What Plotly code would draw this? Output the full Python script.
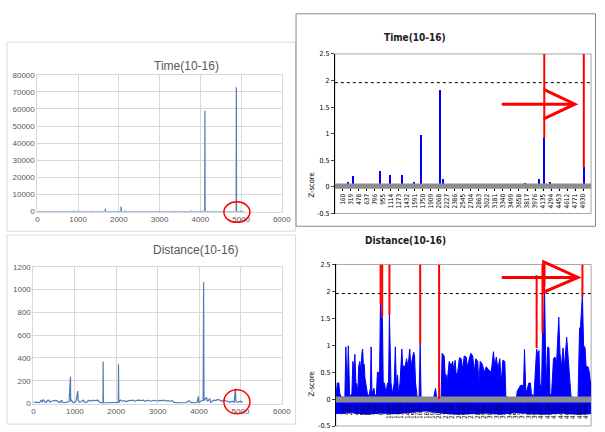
import plotly.graph_objects as go

W, H = 605, 432


def px(x):
    return x / W


def py(y):
    return 1 - y / H


# ---------------- data ----------------
# Time(10-16), raw values per record index
time_idx = [0, 195, 200, 205, 295, 300, 305, 380, 385, 390,
            600, 605, 610, 720, 725, 730, 895, 900, 905, 1050,
            1055, 1060, 1200, 1205, 1210, 1350, 1355, 1360, 1550, 1555,
            1560, 1665, 1670, 1675, 2051, 2056, 2061, 2150, 2155, 2160,
            3350, 3355, 3360, 3770, 3775, 3780, 4040, 4045, 4050, 4108,
            4113, 4118, 4260, 4265, 4270, 4879, 4884, 4889, 4990, 4995,
            5000, 5077]
time_val = [0, 0, 300, 0, 0, 300, 0, 0, 250, 0,
            0, 200, 0, 0, 250, 0, 0, 600, 0, 0,
            300, 0, 0, 250, 0, 0, 300, 0, 0, 350,
            0, 0, 1800, 0, 0, 2900, 0, 0, 500, 0,
            0, 150, 0, 0, 200, 0, 0, 400, 0, 0,
            59000, 0, 0, 400, 0, 0, 72700, 0, 0, 200,
            0, 0]

# Distance(10-16), raw values per record index
dist_idx = [0, 50, 100, 150, 190, 210, 240, 270, 310, 340,
            370, 400, 430, 470, 500, 530, 560, 600, 640, 680,
            700, 740, 780, 820, 860, 895, 900, 905, 915, 950,
            990, 1030, 1070, 1080, 1110, 1150, 1200, 1240, 1280, 1320,
            1360, 1400, 1440, 1480, 1520, 1560, 1600, 1640, 1680, 1684,
            1690, 1750, 1850, 1950, 2000, 2050, 2055, 2062, 2100, 2150,
            2200, 2250, 2300, 2350, 2400, 2450, 2500, 2550, 2600, 2650,
            2700, 2750, 2800, 2850, 2900, 2950, 3000, 3050, 3100, 3150,
            3200, 3250, 3300, 3350, 3400, 3500, 3600, 3700, 3760, 3800,
            3850, 3900, 3950, 3984, 3995, 4050, 4100, 4111, 4120, 4180,
            4200, 4260, 4280, 4320, 4360, 4400, 4450, 4500, 4550, 4600,
            4650, 4700, 4750, 4800, 4850, 4878, 4890, 4920, 4960, 5000,
            5051]
dist_val = [12, 10, 14, 8, 30, 12, 35, 15, 8, 28,
            30, 12, 20, 25, 30, 28, 25, 15, 8, 30,
            10, 8, 12, 10, 15, 235, 20, 150, 30, 10,
            8, 20, 109, 30, 10, 15, 30, 10, 8, 25,
            28, 20, 30, 25, 28, 30, 10, 5, 5, 369,
            5, 5, 8, 6, 8, 10, 344, 10, 30, 20,
            25, 15, 28, 25, 30, 20, 28, 30, 25, 30,
            20, 28, 25, 20, 28, 25, 22, 28, 25, 30,
            22, 25, 20, 25, 10, 5, 5, 8, 25, 8,
            10, 5, 8, 63, 10, 20, 30, 1063, 25, 55,
            20, 40, 10, 20, 30, 25, 35, 30, 20, 30,
            25, 15, 10, 20, 10, 132, 20, 10, 15, 20,
            10]

# Time(10-16), Z-score columns
tz_idx = [268, 352, 906, 1089, 1330, 1571, 1708, 2080, 2152, 3351,
          3770, 4049, 4160, 4277, 4955]
tz_val = [0.09, 0.2, 0.31, 0.22, 0.22, 0.09, 0.98, 1.82, 0.15, 0.02,
          0.07, 0.15, 0.92, 0.09, 0.37]
tz_flag_idx = [4160, 4945]
tz_flag_from = [0.92, 0.37]
tz_flag_to = [2.5, 2.5]
tz_labels = [160, 319, 478, 637, 796, 955, 1114, 1273, 1432, 1591,
             1750, 1909, 2068, 2227, 2386, 2545, 2704, 2863, 3022, 3181,
             3340, 3499, 3658, 3817, 3976, 4135, 4294, 4453, 4612, 4771,
             4930]

# Distance(10-16), Z-score columns (positive envelope)
dz_idx = [0, 30, 60, 80, 100, 180, 200, 225, 250, 275,
          320, 340, 360, 380, 400, 420, 440, 455, 480, 500,
          520, 535, 550, 565, 580, 600, 630, 660, 690, 704,
          720, 760, 780, 810, 830, 850, 870, 890, 910, 930,
          945, 970, 1000, 1030, 1050, 1069, 1085, 1100, 1130, 1165,
          1187, 1205, 1230, 1250, 1280, 1317, 1335, 1360, 1385, 1410,
          1440, 1474, 1495, 1520, 1552, 1570, 1590, 1620, 1660, 1682,
          1700, 1800, 1950, 1989, 2010, 2060, 2100, 2120, 2160, 2180,
          2200, 2220, 2260, 2300, 2330, 2350, 2380, 2400, 2430, 2465,
          2500, 2530, 2560, 2600, 2620, 2650, 2690, 2730, 2760, 2790,
          2830, 2850, 2880, 2920, 2960, 3000, 3040, 3100, 3143, 3170,
          3200, 3230, 3270, 3300, 3330, 3370, 3390, 3450, 3600, 3619,
          3680, 3720, 3740, 3762, 3790, 3850, 3880, 3900, 3950, 4004,
          4030, 4050, 4070, 4100, 4121, 4140, 4160, 4180, 4200, 4226,
          4250, 4270, 4300, 4340, 4370, 4400, 4446, 4470, 4500, 4530,
          4560, 4603, 4625, 4650, 4670, 4690, 4750, 4830, 4860, 4880,
          4917, 4940, 4970, 4990, 5030, 5050, 5080, 5090]
dz_val = [0, 0.3, 0.3, 0.1, 0.05, 0.02, 0.97, 0.1, 0.99, 0.05,
          0.1, 0.7, 0.5, 0.83, 0.3, 0.28, 0.1, 0.6, 0.7, 0.5,
          0.85, 0.93, 0.6, 0.65, 0.4, 0.3, 0.1, 0.05, 0.2, 0.97,
          0.1, 0.2, 0.05, 0.1, 0.5, 0.5, 0.3, 1.8, 1.55, 1.5,
          0.3, 0.3, 0.1, 0.3, 0.2, 1.56, 0.8, 0.3, 0.1, 0.3,
          0.97, 0.3, 0.45, 0.1, 0.3, 0.93, 0.6, 0.62, 0.6, 0.75,
          0.6, 0.93, 0.6, 0.7, 0.87, 0.8, 0.3, 0.05, 0.03, 1.02,
          0.03, 0.02, 0.02, 0.2, 0.02, 0.0, 0.05, 0.85, 0.8, 0.45,
          0.45, 0.3, 0.7, 0.62, 0.7, 0.55, 0.72, 0.45, 0.5, 0.77,
          0.75, 0.55, 0.8, 0.78, 0.6, 0.7, 0.85, 0.8, 0.5, 0.75,
          0.7, 0.3, 0.7, 0.65, 0.5, 0.6, 0.55, 0.5, 0.88, 0.6,
          0.78, 0.55, 0.75, 0.3, 0.72, 0.7, 0.05, 0.02, 0.02, 0.15,
          0.25, 0.26, 0.1, 0.92, 0.1, 0.3, 0.3, 0.1, 0.05, 0.93,
          0.8, 0.9, 0.3, 0.1, 1.22, 1.1, 2.1, 1.0, 0.3, 0.97,
          0.95, 0.1, 0.05, 0.75, 0.78, 0.65, 1.52, 0.85, 0.6, 0.95,
          0.6, 1.15, 0.8, 0.5, 0.3, 0.05, 0.02, 0.02, 1.3, 1.35,
          1.95, 1.0, 0.95, 0.6, 0.6, 0.52, 0.25, 0.2]
# negative side of the distance Z-score columns
dzn_idx = [0, 300, 600, 900, 1200, 1500, 1800, 2100, 2400, 2700,
           3000, 3300, 3600, 3900, 4200, 4500, 4800, 5090]
dzn_val = [-0.27, -0.25, -0.28, -0.26, -0.27, -0.25, -0.22, -0.26, -0.28, -0.27,
           -0.26, -0.28, -0.25, -0.27, -0.28, -0.26, -0.28, -0.27]
dz_flag_idx = [893, 925, 1069, 1682, 2060, 4004, 4121, 4160, 4917]
dz_flag_from = [1.78, 1.53, 1.56, 1.02, 0.0, 0.95, 1.22, 2.1, 1.9]
dz_flag_to = [2.5, 2.5, 2.5, 2.5, 2.5, 2.3, 2.5, 2.5, 2.5]
dz_labels = [160, 287, 414, 541, 668, 795, 922, 1049, 1176, 1303,
             1430, 1557, 1684, 1811, 1938, 2065, 2192, 2319, 2446, 2573,
             2700, 2827, 2954, 3081, 3208, 3335, 3462, 3589, 3716, 3843,
             3970, 4097, 4224, 4351, 4478, 4605, 4732, 4859, 4986]

Z_CRIT = 1.96

# ---------------- styling ----------------
LINE_BLUE = "#4f7bb8"
GRID = "#d9d9d9"
TXT = "#595959"
BLUE = "#0000ff"
RED = "#ff0000"
GRAY_BAND = "#8c8c8c"
NARROW = "Liberation Sans Narrow, DejaVu Sans Condensed, Liberation Sans"

fig = go.Figure()

fig.add_trace(go.Scatter(x=time_idx, y=time_val, mode="lines",
                         line=dict(color=LINE_BLUE, width=1.2),
                         xaxis="x", yaxis="y", showlegend=False))
fig.add_trace(go.Scatter(x=dist_idx, y=dist_val, mode="lines",
                         line=dict(color=LINE_BLUE, width=1.2),
                         xaxis="x2", yaxis="y2", showlegend=False))
fig.add_trace(go.Bar(x=tz_idx, y=tz_val, width=28,
                     marker=dict(color=BLUE, line=dict(width=0)),
                     xaxis="x3", yaxis="y3", showlegend=False))
fig.add_trace(go.Scatter(x=dz_idx, y=dz_val, mode="lines", fill="tozeroy",
                         line=dict(color=BLUE, width=1), fillcolor=BLUE,
                         xaxis="x4", yaxis="y4", showlegend=False))
fig.add_trace(go.Scatter(x=dzn_idx, y=dzn_val, mode="lines", fill="tozeroy",
                         line=dict(color=BLUE, width=1), fillcolor=BLUE,
                         xaxis="x4", yaxis="y4", showlegend=False))

left_tick = dict(size=8, color=TXT, family="Liberation Sans")
right_tick = dict(size=7, color="black", family=NARROW)

fig.update_layout(
    width=W, height=H, autosize=False,
    margin=dict(l=0, r=0, t=0, b=0),
    paper_bgcolor="white", plot_bgcolor="white",
    bargap=0,
    # top-left: Time
    xaxis=dict(domain=[px(36), px(285)], range=[0, 6000], dtick=1000,
               tickformat="d",
               showgrid=True, gridcolor=GRID, zeroline=False,
               showline=True, linecolor=GRID, mirror=True,
               tickfont=left_tick, anchor="y"),
    yaxis=dict(domain=[py(212), py(72.3)], range=[0, 80000], dtick=10000,
               tickformat="d",
               showgrid=True, gridcolor=GRID, zeroline=False,
               showline=True, linecolor=GRID, mirror=True,
               tickfont=left_tick, anchor="x"),
    # bottom-left: Distance
    xaxis2=dict(domain=[px(32), px(285)], range=[0, 6000], dtick=1000,
                tickformat="d",
                showgrid=True, gridcolor=GRID, zeroline=False,
                showline=True, linecolor=GRID, mirror=True,
                tickfont=left_tick, anchor="y2"),
    yaxis2=dict(domain=[py(408), py(268.3)], range=[0, 1200], dtick=200,
                tickformat="d",
                showgrid=True, gridcolor=GRID, zeroline=False,
                showline=True, linecolor=GRID, mirror=True,
                tickfont=left_tick, anchor="x2"),
    # top-right: Time Z-score
    xaxis3=dict(domain=[px(339), px(600)], range=[0, 5090],
                tickvals=tz_labels, ticktext=[str(v) for v in tz_labels],
                tickangle=-90, tickfont=dict(size=6.5, color="black", family=NARROW),
                showgrid=False, zeroline=False, showline=True, linecolor="black",
                ticks="outside", ticklen=3, tickcolor="black",
                anchor="free", position=py(187)),
    yaxis3=dict(domain=[py(214), py(51)], range=[-0.5, 2.5],
                tickvals=[-0.5, 0, 0.5, 1, 1.5, 2, 2.5],
                ticktext=["-0.5", "0", "0.5", "1", "1.5", "2", "2.5"],
                tickfont=right_tick, showgrid=False, zeroline=False,
                showline=True, linecolor="black", ticks="outside", ticklen=3,
                anchor="x3"),
    # bottom-right: Distance Z-score
    xaxis4=dict(domain=[px(340), px(600)], range=[0, 5090],
                tickvals=dz_labels, ticktext=[str(v) for v in dz_labels],
                tickangle=-90, tickfont=dict(size=6.5, color="black", family=NARROW),
                showgrid=False, zeroline=False, showline=True, linecolor="black",
                ticks="outside", ticklen=3, tickcolor="black",
                anchor="free", position=py(402)),
    yaxis4=dict(domain=[py(431), py(266)], range=[-0.5, 2.5],
                tickvals=[-0.5, 0, 0.5, 1, 1.5, 2, 2.5],
                ticktext=["-0.5", "0", "0.5", "1", "1.5", "2", "2.5"],
                tickfont=right_tick, showgrid=False, zeroline=False,
                showline=True, linecolor="black", ticks="outside", ticklen=3,
                anchor="x4"),
)

shapes = []
# panel frames
shapes.append(dict(type="rect", xref="paper", yref="paper",
                   x0=px(5), x1=px(299), y0=py(232), y1=py(39),
                   line=dict(color=GRID, width=1), layer="below"))
shapes.append(dict(type="rect", xref="paper", yref="paper",
                   x0=px(5), x1=px(299), y0=py(429), y1=py(236),
                   line=dict(color=GRID, width=1), layer="below"))
shapes.append(dict(type="rect", xref="paper", yref="paper",
                   x0=px(299.5), x1=px(604.5), y0=py(227), y1=py(10),
                   line=dict(color="#8a8a8a", width=1), layer="below"))

for n in ("3", "4"):
    # plot-area frame
    shapes.append(dict(type="rect", xref=f"x{n} domain", yref=f"y{n} domain",
                       x0=0, x1=1, y0=0, y1=1,
                       line=dict(color="#a6a6a6", width=1), layer="below"))
    # critical value
    shapes.append(dict(type="line", xref=f"x{n} domain", yref=f"y{n}",
                       x0=0, x1=1, y0=Z_CRIT, y1=Z_CRIT,
                       line=dict(color="black", width=1, dash="dot"), layer="above"))

# gray band along the zero line
shapes.append(dict(type="rect", xref="x3 domain", yref="y3", x0=0, x1=1,
                   y0=-0.035, y1=0.065, fillcolor=GRAY_BAND, line=dict(width=0),
                   layer="above"))
shapes.append(dict(type="rect", xref="x4 domain", yref="y4", x0=0, x1=1,
                   y0=-0.065, y1=0.05, fillcolor=GRAY_BAND, line=dict(width=0),
                   layer="above"))

# flagged records
for xi, a, b in zip(tz_flag_idx, tz_flag_from, tz_flag_to):
    shapes.append(dict(type="line", xref="x3", yref="y3", x0=xi, x1=xi, y0=a, y1=b,
                       line=dict(color=RED, width=2), layer="above"))
for xi, a, b in zip(dz_flag_idx, dz_flag_from, dz_flag_to):
    shapes.append(dict(type="line", xref="x4", yref="y4", x0=xi, x1=xi, y0=a, y1=b,
                       line=dict(color=RED, width=2), layer="above"))

# arrows pointing at the last flagged record
arrow = dict(color=RED, width=3)
shapes.append(dict(type="line", xref="paper", yref="paper",
                   x0=px(509), y0=py(102.3), x1=px(582), y1=py(102.3), line=arrow))
shapes.append(dict(type="path", xref="paper", yref="paper",
                   path=f"M {px(551.7)},{py(87.3)} L {px(583.5)},{py(102.3)} L {px(551.7)},{py(117.3)}",
                   line=arrow))
shapes.append(dict(type="line", xref="paper", yref="paper",
                   x0=px(509), y0=py(279.3), x1=px(585), y1=py(279.3), line=arrow))
shapes.append(dict(type="path", xref="paper", yref="paper",
                   path=f"M {px(551.7)},{py(263.3)} L {px(586.7)},{py(279.3)} L {px(551.7)},{py(294.3)} Z",
                   line=arrow))

# circles around the last record on the raw charts
shapes.append(dict(type="circle", xref="paper", yref="paper",
                   x0=px(226), x1=px(252.5), y0=py(223), y1=py(202),
                   line=dict(color=RED, width=1.5)))
shapes.append(dict(type="circle", xref="paper", yref="paper",
                   x0=px(226), x1=px(252.5), y0=py(418.5), y1=py(394),
                   line=dict(color=RED, width=1.5)))

fig.update_layout(shapes=shapes)

ann = []
ann.append(dict(text="Time(10-16)", x=px(153), y=py(54), xref="paper", yref="paper",
                showarrow=False, font=dict(size=12, color=TXT, family="Liberation Sans")))
ann.append(dict(text="Distance(10-16)", x=px(152), y=py(251), xref="paper", yref="paper",
                showarrow=False, font=dict(size=12, color=TXT, family="Liberation Sans")))
ann.append(dict(text="<b>Time(10-16)</b>", x=px(454), y=py(27), xref="paper", yref="paper",
                showarrow=False, font=dict(size=10, color="#202020", family=NARROW)))
ann.append(dict(text="<b>Distance(10-16)</b>", x=px(454), y=py(242), xref="paper", yref="paper",
                showarrow=False, font=dict(size=10, color="#202020", family=NARROW)))
ann.append(dict(text="Z-score", x=px(315), y=py(185), xref="paper", yref="paper",
                textangle=-90, showarrow=False,
                font=dict(size=7.5, color="black", family=NARROW)))
ann.append(dict(text="Z-score", x=px(315), y=py(403), xref="paper", yref="paper",
                textangle=-90, showarrow=False,
                font=dict(size=7.5, color="black", family=NARROW)))
fig.update_layout(annotations=ann)

fig.write_html("out.html")
